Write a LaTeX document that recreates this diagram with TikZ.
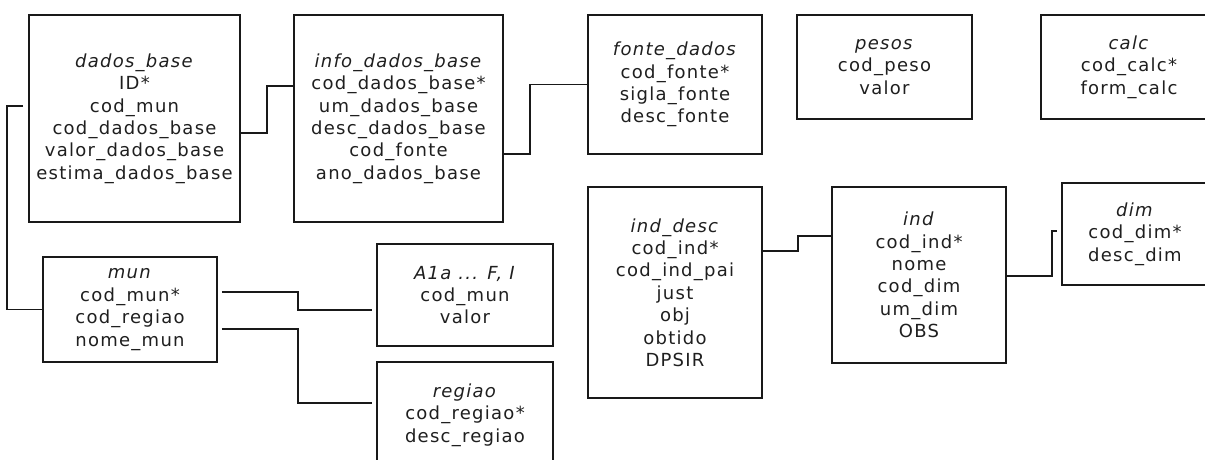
\documentclass[tikz,border=0pt]{standalone}
\usepackage{fontspec}
\setmainfont{DejaVu Sans}[LetterSpace=7]
\usetikzlibrary{calc}
\begin{document}
\begin{tikzpicture}[x=1pt,y=-1pt,
  tbl/.style={draw=black!90, line width=1.6pt, rectangle, align=center, inner sep=0pt,
    font=\fontsize{18}{22.4}\selectfont, text=black!88},
  conn/.style={draw=black!90, line width=1.6pt}]
\useasboundingbox (0,0) rectangle (1205,459);
\fill[white] (0,0) rectangle (1205,459);
\clip (0,0) rectangle (1205,459);

\node[tbl, minimum width=211pt, minimum height=207pt] (db) at (134.5,118.5)
  {\textit{dados\_base}\\ID*\\cod\_mun\\cod\_dados\_base\\valor\_dados\_base\\estima\_dados\_base};
\node[tbl, minimum width=209pt, minimum height=207pt] (info) at (398.5,118.5)
  {\textit{info\_dados\_base}\\cod\_dados\_base*\\um\_dados\_base\\desc\_dados\_base\\cod\_fonte\\ano\_dados\_base};
\node[tbl, minimum width=174pt, minimum height=139pt] (fonte) at (675,84.5)
  {\textit{fonte\_dados}\\cod\_fonte*\\sigla\_fonte\\desc\_fonte};
\node[tbl, minimum width=175pt, minimum height=104pt] (pesos) at (884.5,67)
  {\textit{pesos}\\cod\_peso\\valor};
\node[tbl, minimum width=176pt, minimum height=104pt] (calc) at (1129,67)
  {\textit{calc}\\cod\_calc*\\form\_calc};
\node[tbl, minimum width=174pt, minimum height=211pt] (inddesc) at (675,292.5)
  {\textit{ind\_desc}\\cod\_ind*\\cod\_ind\_pai\\just\\obj\\obtido\\DPSIR};
\node[tbl, minimum width=174pt, minimum height=176pt] (ind) at (919,275)
  {\textit{ind}\\cod\_ind*\\nome\\cod\_dim\\um\_dim\\OBS};
\node[tbl, minimum width=146pt, minimum height=102pt] (dim) at (1135,234)
  {\textit{dim}\\cod\_dim*\\desc\_dim};
\node[tbl, minimum width=174pt, minimum height=105pt] (mun) at (130,309.5)
  {\textit{mun}\\cod\_mun*\\cod\_regiao\\nome\_mun};
\node[tbl, minimum width=176pt, minimum height=102pt] (a1a) at (465,295)
  {\textit{A1a ... F, I}\\cod\_mun\\valor};
\node[tbl, minimum width=176pt, minimum height=106pt] (reg) at (465,415)
  {\textit{regiao}\\cod\_regiao*\\desc\_regiao};

\coordinate (c3s) at ([xshift=-5pt,yshift=12.5pt]db.west);
\coordinate (c7e) at ([xshift=-4pt,yshift=3pt]dim.west);
\coordinate (c4s) at ([xshift=4pt,yshift=17.5pt]mun.east);
\coordinate (c4e) at ([xshift=-4pt,yshift=-15pt]a1a.west);
\coordinate (c5s) at ([xshift=4pt,yshift=-19.5pt]mun.east);
\coordinate (c5e) at ([xshift=-4pt,yshift=12pt]reg.west);

\draw[conn] ([yshift=-14.5pt]db.east) -- ++(26,0) |- ([yshift=32.5pt]info.west);
\draw[conn] ([yshift=-35.5pt]info.east) -- ++(26,0) |- (fonte.west);
\draw[conn] (c3s) -- ++(-16,0) |- (mun.west);
\draw[conn] (c4s) -- ++(76,0) |- (c4e);
\draw[conn] (c5s) -- ++(76,0) |- (c5e);
\draw[conn] ([yshift=41.5pt]inddesc.east) -- ++(35,0) |- ([yshift=39pt]ind.west);
\draw[conn] ([yshift=-1pt]ind.east) -- ++(45,0) |- (c7e);
\end{tikzpicture}
\end{document}
